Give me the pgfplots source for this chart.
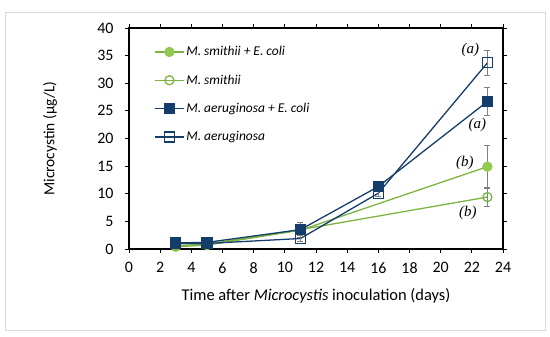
\documentclass[border=0pt]{standalone}
\usepackage{pgfplots}
\pgfplotsset{compat=1.18}
\usepackage{fontspec}
\setmainfont{Carlito}
\newfontfamily\serifit{Liberation Serif}
\definecolor{mgreen}{HTML}{7CB342}
\definecolor{mgreenfill}{HTML}{92C94F}
\definecolor{mnavy}{HTML}{153D6B}
\definecolor{ebar}{HTML}{808080}
\begin{document}
\begin{tikzpicture}
\begin{axis}[
  name=ax,
  scale only axis,
  width=374bp, height=221bp,
  xmin=0, xmax=24, ymin=0, ymax=40,
  xtick={0,2,...,24}, ytick={0,5,...,40},
  tick align=outside, tick style={black, line width=0.8pt},
  major tick length=4bp,
  axis line style={black, line width=1.2pt},
  /pgf/number format/assume math mode=true,
  tick label style={font=\fontsize{16}{18}\selectfont},
  xticklabel style={yshift=-6bp},
  yticklabel style={xshift=-8bp},
  xlabel={Time after \textit{Microcystis} inoculation (days)},
  ylabel={Microcystin (µg/L)},
  xlabel style={font=\fontsize{16.5}{18}\selectfont, at={(axis description cs:0.5,-0.213)}, anchor=center},
  ylabel style={font=\fontsize{15.5}{17}\selectfont, at={(axis description cs:-0.211,0.5)}, anchor=center},
  legend style={draw=none, fill=none, at={(0.06,0.935)}, anchor=north west,
    font=\fontsize{13.5}{15}\selectfont\itshape, row sep=13.5bp,
    legend image code/.code={\draw[mark repeat=2,mark phase=2] plot coordinates {(0cm,0cm) (0.5cm,0cm) (1cm,0cm)};}},
  legend cell align=left,
  clip=false,
  error bars/error bar style={ebar, line width=0.8pt},
  error bars/error mark options={rotate=90, mark size=3bp, ebar, line width=0.8pt},
]
\addplot[mgreen, line width=1.3pt, mark=*, mark size=4.5bp, mark options={fill=mgreenfill, draw=mgreenfill},
  error bars/.cd, y dir=both, y explicit]
  coordinates {(3,0.4) +- (0,0) (5,0.7) +- (0,0) (11,3.4) +- (0,0.5) (23,14.9) +- (0,3.8)};
\addlegendentry{M. smithii + E. coli}
\addplot[mgreen, line width=1.3pt, mark=o, mark size=4.5bp, mark options={line width=1.3pt, fill=white},
  error bars/.cd, y dir=both, y explicit]
  coordinates {(3,0.6) +- (0,0) (5,0.9) +- (0,0) (11,3.5) +- (0,0.5) (23,9.4) +- (0,1.6)};
\addlegendentry{M. smithii}
\addplot[mnavy, line width=1.3pt, mark=square*, mark size=5bp, mark options={fill=mnavy},
  error bars/.cd, y dir=both, y explicit]
  coordinates {(3,1.1) +- (0,0.2) (5,1.2) +- (0,0.2) (11,3.5) +- (0,1.4) (16,11.3) +- (0,0.6) (23,26.7) +- (0,2.6)};
\addlegendentry{M. aeruginosa + E. coli}
\addplot[mnavy, line width=1.3pt, mark=square, mark size=5bp, mark options={line width=1.3pt, fill=white},
  error bars/.cd, y dir=both, y explicit]
  coordinates {(3,1.0) +- (0,0.2) (5,1.0) +- (0,0.2) (11,1.9) +- (0,0.5) (16,10.1) +- (0,0.5) (23,33.7) +- (0,2.2)};
\addlegendentry{M. aeruginosa}
\node[font=\serifit\itshape\fontsize{15}{17}\selectfont] at (axis cs:21.9,36.1) {(a)};
\node[font=\serifit\itshape\fontsize{15}{17}\selectfont] at (axis cs:22.35,22.4) {(a)};
\node[font=\serifit\itshape\fontsize{15}{17}\selectfont] at (axis cs:21.55,15.6) {(b)};
\node[font=\serifit\itshape\fontsize{15}{17}\selectfont] at (axis cs:21.75,6.6) {(b)};
\end{axis}
\draw[black!15, line width=0.8bp] ([shift={(-124bp,-81bp)}]ax.south west) rectangle ([shift={(416bp,237bp)}]ax.south west);
\path ([shift={(-129bp,-88bp)}]ax.south west) rectangle ([shift={(421bp,249bp)}]ax.south west);
\end{tikzpicture}
\end{document}
